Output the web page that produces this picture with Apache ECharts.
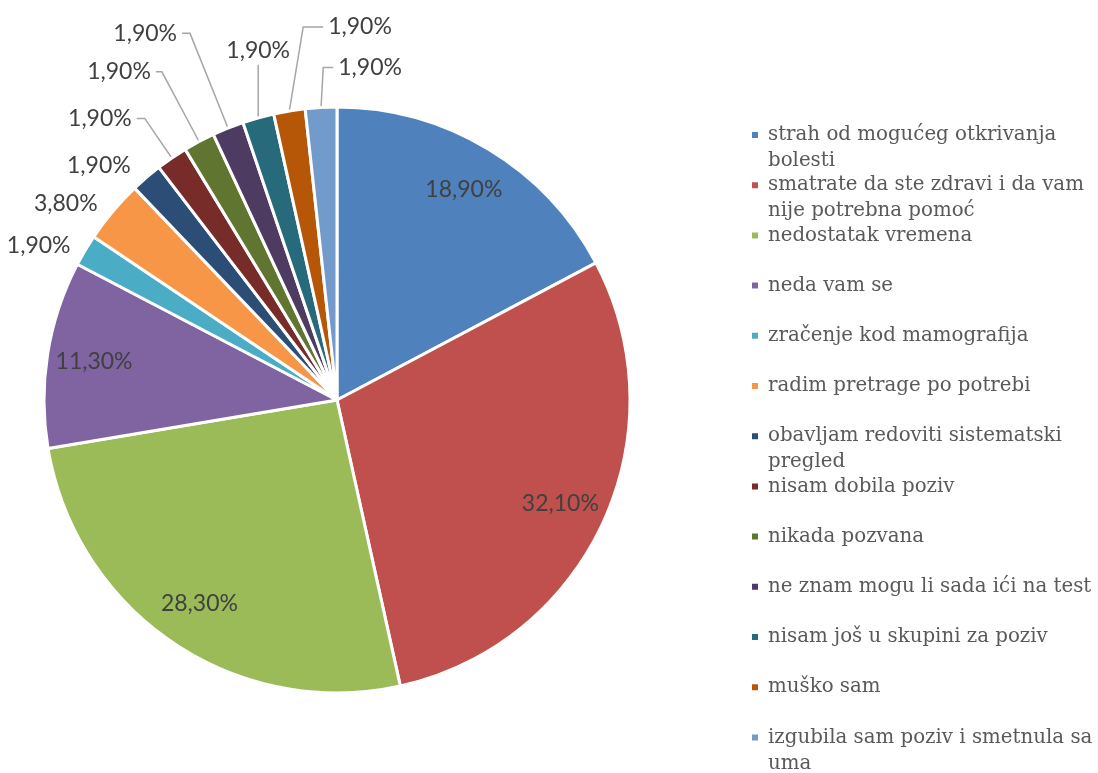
<!DOCTYPE html>
<html>
<head>
<meta charset="utf-8">
<script src="https://cdn.jsdelivr.net/npm/echarts@6/dist/echarts.min.js"></script>
<style>html,body{margin:0;padding:0;background:#fff}#c{width:1098px;height:773px}</style>
</head>
<body>
<div id="c"></div>
<script>
const categories = [
  'strah od mogućeg otkrivanja bolesti',
  'smatrate da ste zdravi i da vam nije potrebna pomoć',
  'nedostatak vremena',
  'neda vam se',
  'zračenje kod mamografija',
  'radim pretrage po potrebi',
  'obavljam redoviti sistematski pregled',
  'nisam dobila poziv',
  'nikada pozvana',
  'ne znam mogu li sada ići na test',
  'nisam još u skupini za poziv',
  'muško sam',
  'izgubila sam poziv i smetnula sa uma'
];
const legendLabels = [
  'strah od mogućeg otkrivanja\nbolesti',
  'smatrate da ste zdravi i da vam\nnije potrebna pomoć',
  'nedostatak vremena\n ',
  'neda vam se\n ',
  'zračenje kod mamografija\n ',
  'radim pretrage po potrebi\n ',
  'obavljam redoviti sistematski\npregled',
  'nisam dobila poziv\n ',
  'nikada pozvana\n ',
  'ne znam mogu li sada ići na test\n ',
  'nisam još u skupini za poziv\n ',
  'muško sam\n ',
  'izgubila sam poziv i smetnula sa\numa'
];
const values = [18.9, 32.1, 28.3, 11.3, 1.9, 3.8, 1.9, 1.9, 1.9, 1.9, 1.9, 1.9, 1.9];
const colors = ['#4F81BD','#C0504D','#9BBB59','#8064A2','#4BACC6','#F79646','#2C4D75','#772C2A','#5F7530','#4D3B62','#276A7C','#B65708','#729ACA'];
// leader line styling for the small outside labels: [length, length2, showLine, mode]
// mode 'R': leader mirrored to the right side; 'U': vertical leader with label above
const leaderStyle = [null, null, null, null,
  [10, 1, false], [12, 1, false], [15, 1, false], [48, 8, true], [79, 6, true],
  [102, 8, true], [55, 1, true, 'U'], [85, 20, true, 'R'], [40, 10, true, 'R']];

const fmt = v => v.toFixed(2).replace('.', ',') + '%';
const labelFont = {fontFamily: 'Lato', fontSize: 23, color: '#404040'};
const CX = 337, CY = 400, R = 293;

const mainData = categories.map((n, i) => {
  const s = leaderStyle[i];
  return {
    name: n,
    value: values[i],
    itemStyle: {color: colors[i]},
    label: {show: !!s},
    labelLine: s ? {show: s[2], length: s[0], length2: s[1]} : {show: false}
  };
});
const labelData = categories.map((n, i) => ({
  name: n,
  value: values[i],
  itemStyle: {color: 'rgba(0,0,0,0)'},
  label: {show: !leaderStyle[i]}
}));

// adjust the library-computed leader lines to follow the reference's arrangement
function adjustLeader(p) {
  const s = leaderStyle[p.dataIndex];
  const pts = p.labelLinePoints;
  if (!s || !s[3] || !pts || pts.length < 3) return {};
  const a = pts[0], b = pts[1], c = pts[2];
  if (s[3] === 'R') {
    const nb = [2 * a[0] - b[0], b[1]];
    const nc = [nb[0] + Math.abs(c[0] - b[0]), b[1]];
    return {x: nc[0] + 5, y: nc[1], align: 'left', verticalAlign: 'middle', labelLinePoints: [a, nb, nc]};
  }
  const nb = [a[0], b[1]];
  return {x: nb[0], y: nb[1] - 3, align: 'center', verticalAlign: 'bottom', labelLinePoints: [a, nb, [nb[0], nb[1] - 0.1]]};
}

const chart = echarts.init(document.getElementById('c'), null, {renderer: 'canvas'});
chart.setOption({
  animation: false,
  color: colors,
  legend: {
    orient: 'vertical',
    left: 750,
    top: 96,
    height: 1000,
    padding: 0,
    icon: 'rect',
    itemWidth: 8,
    itemHeight: 8,
    itemGap: -27.8,
    selectedMode: false,
    data: categories,
    formatter: name => ' \n' + legendLabels[categories.indexOf(name)],
    textStyle: {fontFamily: 'DejaVu Serif', fontSize: 19.8, color: '#595959', lineHeight: 26, padding: [0, 0, 0, 4]}
  },
  series: [
    {
      type: 'pie',
      center: [CX, CY],
      radius: [0, R],
      startAngle: 90,
      clockwise: true,
      silent: true,
      avoidLabelOverlap: false,
      itemStyle: {borderColor: '#fff', borderWidth: 3},
      label: Object.assign({position: 'outside', alignTo: 'none', overflow: 'none', formatter: p => fmt(p.value)}, labelFont),
      labelLine: {lineStyle: {color: '#A6A6A6', width: 1.5}},
      labelLayout: adjustLeader,
      data: mainData
    },
    {
      type: 'pie',
      center: [CX, CY],
      radius: [193, R],
      startAngle: 90,
      clockwise: true,
      silent: true,
      itemStyle: {borderWidth: 0},
      label: Object.assign({position: 'inside', formatter: p => fmt(p.value)}, labelFont),
      labelLine: {show: false},
      data: labelData
    }
  ]
});
</script>
</body>
</html>
